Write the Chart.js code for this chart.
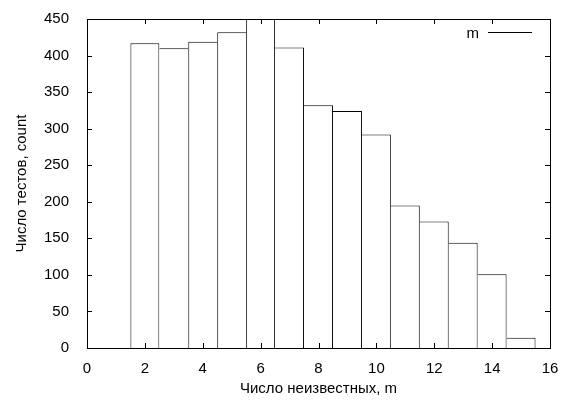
<!DOCTYPE html>
<html>
<head>
<meta charset="utf-8">
<script src="https://cdn.jsdelivr.net/npm/chart.js@4/dist/chart.umd.min.js"></script>
<style>
  html, body { margin: 0; padding: 0; background: #fff; }
  #wrap { width: 569px; height: 400px; }
</style>
</head>
<body>
<div id="wrap"><canvas id="myChart" width="569" height="400"></canvas></div>
<script>
// число неизвестных (центры столбцов) и число тестов
const unknowns = [2, 3, 4, 5, 6, 7, 8, 9, 10, 11, 12, 13, 14, 15];
const counts = [417, 410, 419, 432, 462, 411, 332, 324, 292, 195, 173, 144, 101, 14];
const legendLabel = "m";
const xTitle = "Число неизвестных, m";
const yTitle = "Число тестов, count";

const FONT = "'Liberation Sans', Arial, sans-serif";

// у соседних столбцов общая граница рисуется только более высоким
function edges(ctx) {
    const i = ctx.dataIndex;
    const v = counts[i];
    const left = (i === 0 || v > counts[i - 1]) ? 1 : 0;
    const right = (i === counts.length - 1 || v >= counts[i + 1]) ? 1 : 0;
    return { top: 1, left: left, right: right, bottom: 0 };
}

const gnuplotFrame = {
    id: "gnuplotFrame",
    afterDatasetsDraw(chart) {
        const ctx = chart.ctx;
        const a = chart.chartArea;
        const xs = chart.scales.x;
        const ys = chart.scales.y;
        const t = 5;
        ctx.save();
        ctx.strokeStyle = "#000";
        ctx.lineWidth = 1;
        ctx.beginPath();
        xs.ticks.forEach(tk => {
            if (tk.value <= xs.min || tk.value >= xs.max) return;
            const px = Math.round(xs.getPixelForValue(tk.value)) + 0.5;
            ctx.moveTo(px, a.bottom); ctx.lineTo(px, a.bottom - t);
            ctx.moveTo(px, a.top); ctx.lineTo(px, a.top + t);
        });
        ys.ticks.forEach(tk => {
            if (tk.value <= ys.min || tk.value >= ys.max) return;
            const py = Math.round(ys.getPixelForValue(tk.value)) + 0.5;
            ctx.moveTo(a.left, py); ctx.lineTo(a.left + t, py);
            ctx.moveTo(a.right, py); ctx.lineTo(a.right - t, py);
        });
        ctx.stroke();
        ctx.strokeRect(Math.round(a.left) + 0.5, Math.round(a.top) + 0.5,
            Math.round(a.right - a.left), Math.round(a.bottom - a.top));

        // легенда в правом верхнем углу
        const ly = Math.round(a.top + 13) + 0.5;
        const lx2 = a.right - 18;
        const lx1 = lx2 - 44;
        ctx.beginPath();
        ctx.moveTo(lx1, ly); ctx.lineTo(lx2, ly);
        ctx.stroke();
        ctx.fillStyle = "#000";
        ctx.font = "15px " + FONT;
        ctx.textAlign = "right";
        ctx.textBaseline = "middle";
        ctx.fillText(legendLabel, lx1 - 9, ly + 1);
        ctx.restore();
    }
};

const ctx = document.getElementById("myChart");

new Chart(ctx, {
    type: "bar",
    data: {
        datasets: [{
            label: legendLabel,
            data: unknowns.map((x, i) => ({ x: x, y: counts[i] })),
            backgroundColor: "#fff",
            borderColor: "#000",
            borderWidth: edges,
            borderSkipped: false,
            barPercentage: 1,
            categoryPercentage: 1,
            inflateAmount: 0
        }]
    },
    options: {
        responsive: false,
        animation: false,
        layout: { padding: { left: 0, top: 15, right: 19, bottom: 0 } },
        plugins: {
            legend: { display: false },
            tooltip: { enabled: false }
        },
        scales: {
            x: {
                type: "linear",
                min: 0,
                max: 16,
                offset: false,
                grid: { display: false },
                border: { display: false },
                ticks: { stepSize: 2, color: "#000", padding: 4, maxRotation: 0, font: { family: FONT, size: 15 } },
                title: { display: true, text: xTitle, color: "#000", padding: { top: 0, bottom: 2 }, font: { family: FONT, size: 15 } },
                afterFit(scale) { scale.height = 52; }
            },
            y: {
                min: 0,
                max: 450,
                grid: { display: false },
                border: { display: false },
                ticks: { stepSize: 50, color: "#000", padding: 10, font: { family: FONT, size: 15 } },
                title: { display: true, text: yTitle, color: "#000", padding: { top: 13, bottom: 0 }, font: { family: FONT, size: 15 } },
                afterFit(scale) { scale.width = 87; }
            }
        }
    },
    plugins: [gnuplotFrame]
});
</script>
</body>
</html>
